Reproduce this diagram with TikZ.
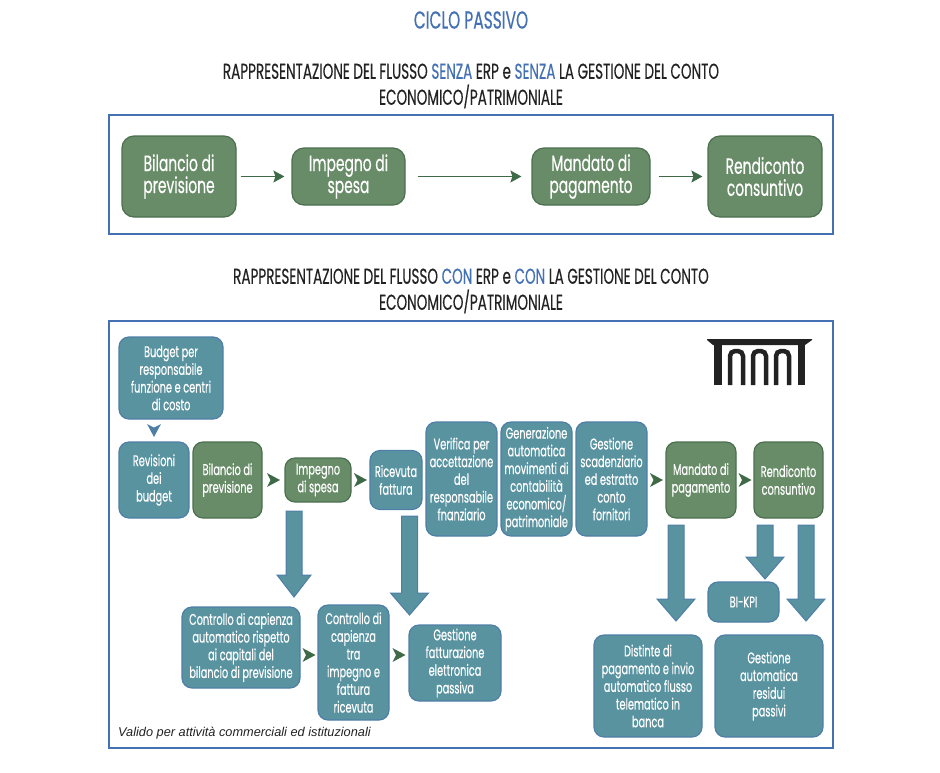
\documentclass[tikz,border=0pt]{standalone}
\usepackage{fontspec}
\setmainfont[FakeStretch=0.63,FakeBold=0.4]{Poppins}
\newfontfamily\notefont{Liberation Sans}
\usetikzlibrary{calc,arrows.meta}
\definecolor{frameblue}{HTML}{4470B4}
\definecolor{greenfill}{HTML}{688B68}
\definecolor{greenline}{HTML}{4C6F4E}
\definecolor{tealfill}{HTML}{5993A0}
\definecolor{tealline}{HTML}{4F7FA6}
\definecolor{chevgreen}{HTML}{3F6A47}
\definecolor{inkdark}{HTML}{222222}
\tikzset{
  frame/.style={draw=frameblue, line width=2pt},
  heading/.style={inkdark, font=\fontsize{21.5}{26}\selectfont, align=center, inner sep=0pt},
  greenbox/.style={draw=greenline, fill=greenfill, line width=1.2pt, rounded corners=10pt, text=white, align=center, inner sep=0pt, font=\fontsize{15.5}{17.7}\selectfont},
  tealbox/.style={greenbox, draw=tealline, fill=tealfill},
  bigbox/.style={rounded corners=12pt, font=\fontsize{22}{22}\selectfont},
  flow/.style={-{Stealth[length=11pt,width=12pt,inset=2pt]}, draw=chevgreen, line width=1.5pt},
  chevron/.style={fill=#1, draw=none, to path={($(\tikztostart)!.5!(\tikztotarget)$) coordinate (chm)
    ($(chm)!6.5pt!(\tikztotarget)$) -- ($(chm)!9.5pt!133:(\tikztotarget)$) -- ($(chm)!3pt!180:(\tikztotarget)$) -- ($(chm)!9.5pt!-133:(\tikztotarget)$) -- cycle}},
  bigarrow/.style={draw=tealline, fill=tealfill, line width=1pt, to path={let \p1=(\tikztostart), \p2=(\tikztotarget) in
    (\x1-8pt,\y1) -- (\x1+8pt,\y1) -- (\x1+8pt,\y2+22pt) -- (\x1+#1,\y2+22pt) -- (\x1,\y2) -- (\x1-#1,\y2+22pt) -- (\x1-8pt,\y2+22pt) -- (\x1-8pt,\y1) -- cycle}},
  bigarrow/.default=19pt,
  archline/.style={draw=inkdark, line width=4.5pt, rounded corners=5pt}
}
\begin{document}
\begin{tikzpicture}[x=1pt,y=-1pt]
\useasboundingbox (0,0) rectangle (940,772);
% titles
\node[heading, frameblue, font=\fontsize{24.5}{26}\selectfont] (title) at (471,20) {CICLO PASSIVO};
\node[heading] (head1) at (471,86) {RAPPRESENTAZIONE DEL FLUSSO \textcolor{frameblue}{SENZA} ERP e \textcolor{frameblue}{SENZA} LA GESTIONE DEL CONTO\\ECONOMICO/PATRIMONIALE};
\node[heading] (head2) at (471,291) {RAPPRESENTAZIONE DEL FLUSSO \textcolor{frameblue}{CON} ERP e \textcolor{frameblue}{CON} LA GESTIONE DEL CONTO\\ECONOMICO/PATRIMONIALE};
\draw[frame] (109,115) rectangle (833,234);
\draw[frame] (109,321) rectangle (833,748);
% senza ERP
\node[greenbox, bigbox, minimum width=114pt, minimum height=81pt] (bil1) at (179,176.5) {Bilancio di\\previsione};
\node[greenbox, bigbox, minimum width=113pt, minimum height=57pt] (imp1) at (348.5,176.5) {Impegno di\\spesa};
\node[greenbox, bigbox, minimum width=118pt, minimum height=57pt] (man1) at (591,176.5) {Mandato di\\pagamento};
\node[greenbox, bigbox, minimum width=114pt, minimum height=81pt] (ren1) at (765,176.5) {Rendiconto\\consuntivo};
\draw[flow, shorten <=4pt, shorten >=7pt] (bil1) -- (imp1);
\draw[flow, shorten <=12pt, shorten >=10pt] (imp1) -- (man1);
\draw[flow, shorten <=8pt, shorten >=5pt] (man1) -- (ren1);
% con ERP
\node[tealbox, minimum width=104pt, minimum height=82pt] (bud) at (171,378) {Budget per\\responsabile\\funzione e centri\\di costo};
\node[tealbox, minimum width=70pt, minimum height=76pt] (rev) at (154,480) {Revisioni\\dei\\budget};
\node[greenbox, minimum width=69pt, minimum height=76pt] (bil) at (227.5,480) {Bilancio di\\previsione};
\node[greenbox, minimum width=66pt, minimum height=44pt] (imp) at (318,480) {Impegno\\di spesa};
\node[tealbox, minimum width=52pt, minimum height=59pt] (ric) at (396,480) {Ricevuta\\fattura};
\node[tealbox, minimum width=71pt, minimum height=114pt] (ver) at (461.5,479) {Verifica per\\accettazione\\del\\responsabile\\fnanziario};
\node[tealbox, minimum width=71pt, minimum height=114pt] (gen) at (536.5,479) {Generazione\\automatica\\movimenti di\\contabilità\\economico/\\patrimoniale};
\node[tealbox, minimum width=71pt, minimum height=114pt] (sca) at (611.5,479) {Gestione\\scadenziario\\ed estratto\\conto\\fornitori};
\node[greenbox, minimum width=70pt, minimum height=76pt] (man) at (701,480) {Mandato di\\pagamento};
\node[greenbox, minimum width=69pt, minimum height=76pt] (ren) at (788.5,480) {Rendiconto\\consuntivo};
\node[tealbox, minimum width=118pt, minimum height=81pt] (cap) at (241,647.5) {Controllo di capienza\\automatico rispetto\\ai capitali del\\bilancio di previsione};
\node[tealbox, minimum width=71pt, minimum height=115pt] (tra) at (353.5,662.5) {Controllo di\\capienza\\tra\\impegno e\\fattura\\ricevuta};
\node[tealbox, minimum width=92pt, minimum height=76pt] (fat) at (455,663) {Gestione\\fatturazione\\elettronica\\passiva};
\node[tealbox, minimum width=71pt, minimum height=40pt] (kpi) at (743.5,602) {BI-KPI};
\node[tealbox, minimum width=108pt, minimum height=102pt] (dis) at (648,686) {Distinte di\\pagamento e invio\\automatico flusso\\telematico in\\banca};
\node[tealbox, minimum width=108pt, minimum height=102pt] (res) at (769,686) {Gestione\\automatica\\residui\\passivi};
\node[inner sep=0pt, anchor=west, inkdark, font=\notefont\itshape\fontsize{12.75}{14}\selectfont] (nota) at (118,733) {Valido per attività commerciali ed istituzionali};
% frecce piccole
\draw[chevron=tealline] (bud.south -| rev.north) to (rev.north);
\draw[chevron=chevgreen] (bil.east) to (imp.west);
\draw[chevron=chevgreen] (imp.east) to (ric.west);
\draw[chevron=chevgreen] (sca.east |- man.west) to (man.west);
\draw[chevron=chevgreen] (man.east) to (ren.west);
\coordinate (capTra) at (0,655);
\draw[chevron=chevgreen] (cap.east |- capTra) to (tra.west |- capTra);
\draw[chevron=chevgreen] (tra.east |- capTra) to (fat.west |- capTra);
% frecce grandi
\coordinate (arrA) at (294,511);
\coordinate (tipA) at (294,597);
\coordinate (arrB) at (409.5,516);
\coordinate (tipB) at (409.5,615);
\coordinate (arrC) at (676,525);
\coordinate (tipC) at (676,621);
\coordinate (arrD) at (765,525);
\coordinate (tipD) at (765,579);
\coordinate (arrE) at (806,525);
\coordinate (tipE) at (806,621);
\draw[bigarrow=17pt] (arrA) to (tipA);
\draw[bigarrow] (arrB) to (tipB);
\draw[bigarrow] (arrC) to (tipC);
\draw[bigarrow] (arrD) to (tipD);
\draw[bigarrow] (arrE) to (tipE);
% logo
\fill[inkdark] (707,339) -- (812,339) -- (812,340) -- (805,345) -- (713,345) -- (707,340) -- cycle;
\fill[inkdark] (714,344) rectangle (722,385);
\fill[inkdark] (798,344) rectangle (805,385);
\foreach \xa in {730,753,776}{
  \draw[archline] (\xa,385) -- (\xa,351) -- (\xa+13,351) -- (\xa+13,385);
}
\end{tikzpicture}
\end{document}
